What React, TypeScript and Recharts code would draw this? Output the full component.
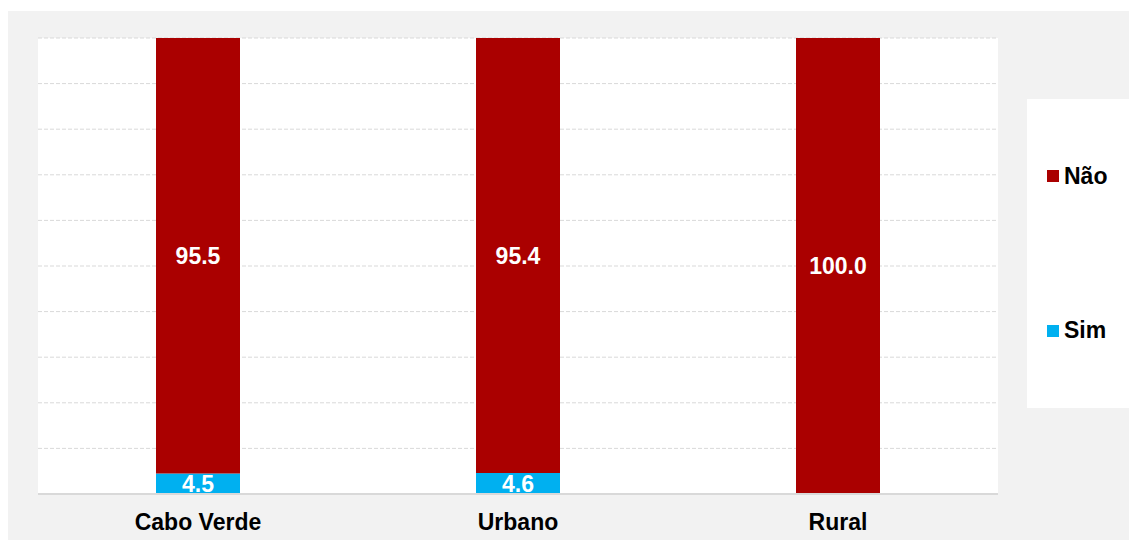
import React from 'react';
import { BarChart, Bar, XAxis, YAxis, CartesianGrid, LabelList, Legend } from 'recharts';

const categories = ['Cabo Verde', 'Urbano', 'Rural'];
const simValues = [4.5, 4.6, 0];
const naoValues = [95.5, 95.4, 100.0];
const yTicks = [0, 10, 20, 30, 40, 50, 60, 70, 80, 90, 100];

const series = [
  { key: 'nao', name: 'Não', color: '#aa0000' },
  { key: 'sim', name: 'Sim', color: '#00b0f0' },
];

const data = categories.map((c, i) => ({ name: c, sim: simValues[i], nao: naoValues[i] }));

const FONT = '"Liberation Sans", Arial, sans-serif';

const fmt = (v: any) => (typeof v === 'number' && v > 0 ? v.toFixed(1) : '');

const LegendContent = () => (
  <div
    style={{
      width: '100%',
      height: '100%',
      background: '#ffffff',
      display: 'flex',
      flexDirection: 'column',
      justifyContent: 'space-around',
      fontFamily: FONT,
    }}
  >
    {series.map((s) => (
      <div key={s.key} style={{ display: 'flex', alignItems: 'center', paddingLeft: 20 }}>
        <span style={{ display: 'inline-block', width: 12, height: 12, background: s.color, marginRight: 5 }} />
        <span style={{ fontSize: 23, fontWeight: 'bold', color: '#000' }}>{s.name}</span>
      </div>
    ))}
  </div>
);

export default function App() {
  return (
    <div style={{ paddingTop: 3 }}>
      <div style={{ width: 1129, height: 529, background: '#f2f2f2', position: 'relative' }}>
        <BarChart
          width={1129}
          height={529}
          data={data}
          margin={{ top: 27, right: 139, bottom: 0, left: 30 }}
          barSize={84}
        >
          <CartesianGrid
            vertical={false}
            stroke="#d9d9d9"
            strokeDasharray="4 2"
            fill="#ffffff"
            fillOpacity={1}
          />
          <XAxis
            dataKey="name"
            height={46}
            axisLine={{ stroke: '#d9d9d9', strokeWidth: 2 }}
            tickLine={false}
            tickSize={0}
            tickMargin={20}
            tick={{ fill: '#000', fontSize: 23, fontWeight: 'bold', fontFamily: FONT }}
          />
          <YAxis hide domain={[0, 100]} ticks={yTicks} />
          <Legend
            layout="horizontal"
            verticalAlign="middle"
            align="center"
            wrapperStyle={{ left: 1019, top: 88, width: 102, height: 309 }}
            content={() => <LegendContent />}
          />
          <Bar dataKey="sim" name="Sim" stackId="a" fill="#00b0f0" isAnimationActive={false}>
            <LabelList
              dataKey="sim"
              position="center"
              formatter={fmt}
              fill="#ffffff"
              style={{ fontSize: 23, fontWeight: 'bold', fontFamily: FONT }}
            />
          </Bar>
          <Bar dataKey="nao" name="Não" stackId="a" fill="#aa0000" isAnimationActive={false}>
            <LabelList
              dataKey="nao"
              position="center"
              formatter={fmt}
              fill="#ffffff"
              style={{ fontSize: 23, fontWeight: 'bold', fontFamily: FONT }}
            />
          </Bar>
        </BarChart>
      </div>
    </div>
  );
}
